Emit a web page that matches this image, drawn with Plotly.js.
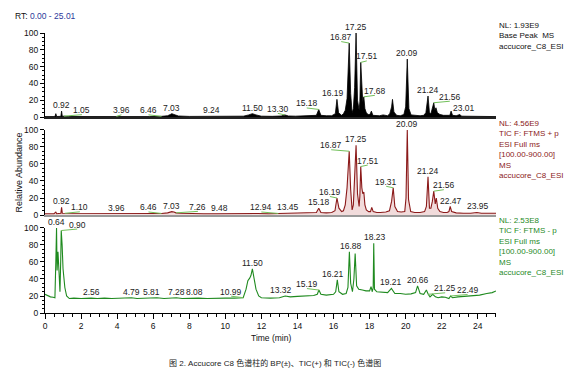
<!DOCTYPE html>
<html><head><meta charset="utf-8">
<script src="https://cdn.plot.ly/plotly-3.0.1.min.js"></script>
<style>html,body{margin:0;padding:0;background:#fff;}#chart{width:574px;height:374px;}</style>
</head><body><div id="chart"></div>
<script>
// ---- Base Peak (top panel) ----
const tTop = [0,0.3,0.5,0.55,0.6,0.65,0.88,0.92,0.96,1.05,
  1.3,2.0,2.5,3.2,3.96,4.5,5.2,5.8,6.46,6.8,
  6.95,7.03,7.15,7.4,8.0,8.6,9.24,9.8,10.4,11.0,
  11.3,11.5,11.7,12.0,12.6,13.1,13.3,13.5,13.9,14.3,
  14.6,14.8,15.05,15.18,15.3,15.6,15.9,16.1,16.19,16.28,
  16.45,16.55,16.65,16.75,16.87,16.95,17.03,17.1,17.17,17.25,
  17.33,17.42,17.46,17.51,17.57,17.62,17.68,17.74,17.82,17.92,
  18.02,18.1,18.18,18.35,18.55,18.75,19.0,19.12,19.22,19.27,
  19.35,19.5,19.7,19.9,20.0,20.09,20.18,20.3,20.55,20.8,
  21.0,21.12,21.24,21.32,21.4,21.47,21.56,21.62,21.68,21.76,
  21.9,22.1,22.3,22.45,22.52,22.6,22.8,22.95,23.01,23.1,
  23.5,24.0,24.5,25.01];
const vTop = [0.5,0.5,0.5,0.5,4,0.6,0.8,7,0.8,1,
  0.6,0.5,0.6,0.5,0.8,0.5,0.6,0.5,0.8,1.5,
  3,4,3,1.2,0.7,0.6,1,0.7,0.8,1,
  2.5,4,2.5,1,0.8,1.2,2.5,1.2,1,1.5,
  1,1.5,2,9,2,1.5,1.5,4,21,5,
  2,4,8,22,88,28,5,10,35,100,
  20,8,18,65,28,18,24,10,5,3,
  3,7,2,2,1.5,2.5,1.5,4,12,21,
  6,2,1.5,3,12,69,10,2.5,2,1.5,
  2,5,25,5,4,10,17,8,11,5,
  3,2,1.5,2,7,2,1.5,2,3,1,
  0.8,0.5,0.5,0.5];

// ---- TIC positive (middle panel) ----
const tMid = [0,0.4,0.5,0.6,0.65,0.88,0.92,0.96,1.1,1.6,
  2.3,3.0,3.96,4.6,5.3,6.0,6.46,6.8,6.95,7.03,
  7.15,7.26,7.5,8.2,8.8,9.48,10.1,10.8,11.3,11.5,
  11.8,12.4,12.94,13.2,13.45,13.7,14.1,14.5,14.8,15.05,
  15.18,15.3,15.6,15.9,16.08,16.19,16.3,16.45,16.55,16.65,
  16.75,16.87,16.95,17.03,17.1,17.17,17.25,17.33,17.42,17.46,
  17.51,17.57,17.62,17.68,17.74,17.82,17.95,18.05,18.12,18.2,
  18.4,18.6,18.9,19.1,19.22,19.31,19.4,19.55,19.75,19.95,
  20.02,20.09,20.16,20.28,20.5,20.8,21.05,21.15,21.24,21.32,
  21.4,21.48,21.56,21.64,21.7,21.78,21.9,22.1,22.3,22.4,
  22.47,22.55,22.8,23.2,23.6,23.95,24.2,24.6,25.01];
const vMid = [1.5,1.5,1.5,3.5,1.5,2,9,2,2,1.5,
  1.5,1.5,1.5,1.5,1.5,1.5,1.8,2.5,3.5,4,
  3.5,2.5,2,1.5,1.5,1.5,1.8,1.8,2,2.2,
  1.8,1.5,1.8,2,2.5,2,2,2.5,2.5,3,
  8,3,2.5,3,5,20,8,4,5,12,
  32,75,30,6,12,38,82,25,10,22,
  57,32,25,27,12,6,4,4,9,4,
  3,3,3.5,5,16,32,10,4,3.5,4,
  20,100,18,4,3,3,4,10,45,8,
  8,16,28,13,20,8,4,3,3,4,
  10,4,2.5,2,2,3,2,2,2];

// ---- TIC negative (bottom panel) ----
const tBot = [0,0.15,0.3,0.45,0.55,0.6,0.64,0.67,0.72,0.78,
  0.83,0.87,0.9,0.95,1.0,1.1,1.2,1.35,1.6,2.0,
  2.3,2.56,2.9,3.3,3.7,4.1,4.5,4.79,5.1,5.5,
  5.81,6.2,6.6,7.0,7.28,7.6,8.08,8.5,9.0,9.5,
  10.0,10.5,10.99,11.15,11.25,11.35,11.42,11.5,11.58,11.7,
  11.85,12.0,12.5,13.0,13.32,13.6,14.0,14.5,14.9,15.1,
  15.19,15.3,15.6,16.0,16.12,16.21,16.3,16.5,16.7,16.8,
  16.88,16.95,17.05,17.13,17.2,17.28,17.4,17.6,17.8,18.0,
  18.08,18.15,18.2,18.23,18.27,18.4,18.7,19.0,19.21,19.4,
  19.7,20.0,20.3,20.55,20.66,20.8,21.0,21.15,21.25,21.35,
  21.5,21.65,21.8,22.0,22.2,22.4,22.49,22.6,22.9,23.3,
  23.7,24.1,24.5,24.8,25.01];
const vBot = [22,20,19,18.5,18,60,100,50,72,47,
  25,60,97,80,52,30,20,17,17.5,17,
  17.5,17.5,17,17.5,17,17.5,17.5,18,17,17.5,
  17.5,18,17,17.5,18,17,17.5,17.5,17,17.5,
  17.5,17.5,18,28,38,41,44,52,42,28,
  20,18,17.5,18,20,19,19.5,20,20.5,22,
  27,22,21,22,25,39,25,22,23,30,
  72,35,25,40,70,32,28,27,26,26,
  31,25,30,82,28,25,24.5,24,29,23,
  23,22,22.5,24,32,23,22,27,22,19,
  22,19,18,19,18.5,17,20,18,19,19.5,
  20,21,23,24,26];

// ---- Peak labels (retention times) ----
const topLabels = [0.92,1.05,3.96,6.46,7.03,9.24,11.50,13.30,15.18,16.19,16.87,17.25,17.51,17.68,20.09,21.24,21.56,23.01];
const midLabels = [0.92,1.10,3.96,6.46,7.03,7.26,9.48,12.94,13.45,15.18,16.19,16.87,17.25,17.51,19.31,20.09,21.24,21.56,22.47,23.95];
const botLabels = [0.64,0.90,2.56,4.79,5.81,7.28,8.08,10.99,11.50,13.32,15.19,16.21,16.88,18.23,19.21,20.66,21.25,22.49];

// label horizontal offsets (px) from their peak
const topDx = [0,18,5,-13,0,0,0,-7,-12,-4,-8,0,6,11,0,0,16,4];
const midDx = [0,15,0,-13,0,22,4,-17,0,0,-7,-18,0,7,-7,0,0,10,1,1];
const botDx = [0,16,0,0,2,0,4,-12,0,-4,-12,-4,2,1,0,0,17,17];

const topInfo = ['NL: 1.93E9','Base Peak  MS','accucore_C8_ESI'];
const midInfo = ['NL: 4.56E9','TIC F: FTMS + p','ESI Full ms','[100.00-900.00]','MS','accucore_C8_ESI'];
const botInfo = ['NL: 2.53E8','TIC F: FTMS - p','ESI Full ms','[100.00-900.00]','MS','accucore_C8_ESI'];

const FONT = 'Liberation Sans, Arial, Helvetica, sans-serif';
const RED = '#8b1a1a', GREEN = '#1f8a1f', LEAD = '#72c05a';

function valAt(ts, vs, x){
  for(let i=0;i<ts.length-1;i++){
    if(x>=ts[i] && x<=ts[i+1]){
      const f=(x-ts[i])/(ts[i+1]-ts[i]); return vs[i]+f*(vs[i+1]-vs[i]);
    }
  }
  return vs[vs.length-1];
}

const traces = [
  {x:tBot,y:vBot,xaxis:'x',yaxis:'y',type:'scatter',mode:'lines',line:{color:GREEN,width:1.1},hoverinfo:'skip'},
  {x:tMid,y:vMid,xaxis:'x2',yaxis:'y2',type:'scatter',mode:'lines',fill:'tozeroy',fillcolor:'rgba(200,110,110,0.25)',line:{color:RED,width:1.1},hoverinfo:'skip'},
  {x:tTop,y:vTop,xaxis:'x3',yaxis:'y3',type:'scatter',mode:'lines',fill:'tozeroy',fillcolor:'#000',line:{color:'#000',width:0.8},hoverinfo:'skip'}
];

const annotations = [], shapes = [];
function addLabels(rts, dxs, ts, vs, xr, yr){
  rts.forEach((rt,i)=>{
    const apex = valAt(ts, vs, rt);
    const dx = dxs[i];
    annotations.push({x:rt,y:apex,xref:xr,yref:yr,text:rt.toFixed(2),showarrow:false,
      xshift:dx,yshift:6,yanchor:'middle',xanchor:'center',font:{family:FONT,size:8.5,color:'#222'}});
    if(Math.abs(dx)>=5){
      shapes.push({type:'line',xref:xr,yref:yr,xsizemode:'pixel',ysizemode:'pixel',
        xanchor:rt,yanchor:apex,x0:0,y0:0,x1:dx,y1:1.5,line:{color:LEAD,width:1}});
    }
  });
}
addLabels(topLabels, topDx, tTop, vTop, 'x3', 'y3');
addLabels(midLabels, midDx, tMid, vMid, 'x2', 'y2');
addLabels(botLabels, botDx, tBot, vBot, 'x', 'y');

function info(lines, y, color){
  annotations.push({xref:'paper',yref:'paper',x:1.003,y:y,xanchor:'left',yanchor:'top',align:'left',
    showarrow:false,text:lines.join('<br>'),font:{family:FONT,size:8,color:color}});
}
info(topInfo, 1.051, '#111');
info(midInfo, 0.701, RED);
info(botInfo, 0.354, GREEN);

annotations.push({xref:'paper',yref:'paper',x:-0.071,y:1.061,xanchor:'left',yanchor:'middle',showarrow:false,
  text:'RT: <span style="color:#2b3a9a">0.00 - 25.01</span>',font:{family:FONT,size:8.5,color:'#111'}});
annotations.push({xref:'paper',yref:'paper',x:-0.057,y:0.503,xanchor:'center',yanchor:'middle',showarrow:false,
  textangle:-90,text:'Relative Abundance',font:{family:FONT,size:9,color:'#111'}});
annotations.push({xref:'paper',yref:'paper',x:0.5,y:-0.089,xanchor:'center',yanchor:'middle',showarrow:false,
  text:'Time (min)',font:{family:FONT,size:8.5,color:'#111'}});
annotations.push({xref:'paper',yref:'paper',x:0.51,y:-0.179,xanchor:'center',yanchor:'middle',showarrow:false,
  text:'图 2. Accucore C8 色谱柱的 BP(±)、TIC(+) 和 TIC(-) 色谱图',
  font:{family:'Liberation Sans, Noto Sans CJK SC, sans-serif',size:8,color:'#222'}});

function yax(domain){
  return {domain:domain,range:[0,100],tickvals:[0,20,40,60,80,100],ticks:'outside',ticklen:4,tickwidth:1,
    tickcolor:'#000',showline:true,linecolor:'#000',linewidth:1,showgrid:false,zeroline:false,
    tickfont:{family:FONT,size:8.5,color:'#111'},
    minor:{dtick:5,ticks:'outside',ticklen:2.5,tickcolor:'#000',showgrid:false}};
}
const xbase = {range:[0,25.01],showgrid:false,zeroline:false};
const layout = {
  width:574,height:374,margin:{l:45,r:78,t:33,b:61},
  paper_bgcolor:'#fff',plot_bgcolor:'#fff',showlegend:false,
  font:{family:FONT,size:9,color:'#111'},
  xaxis:Object.assign({},xbase,{anchor:'y',domain:[0,1],dtick:2,tick0:0,ticks:'outside',ticklen:5,tickcolor:'#000',
    showline:true,linecolor:'#000',linewidth:1,tickfont:{family:FONT,size:8.5,color:'#111'},
    minor:{dtick:0.5,ticks:'outside',ticklen:3,tickcolor:'#000',showgrid:false}}),
  xaxis2:Object.assign({},xbase,{anchor:'y2',matches:'x',showticklabels:false,ticks:'',showline:true,linecolor:'#999',linewidth:1.5}),
  xaxis3:Object.assign({},xbase,{anchor:'y3',matches:'x',showticklabels:false,ticks:'',showline:true,linecolor:'#222',linewidth:1.5}),
  yaxis:yax([0,0.3036]),
  yaxis2:yax([0.35,0.6536]),
  yaxis3:yax([0.70,1.0]),
  annotations:annotations,
  shapes:shapes
};
Plotly.newPlot('chart',traces,layout,{staticPlot:true,displayModeBar:false});
</script></body></html>
